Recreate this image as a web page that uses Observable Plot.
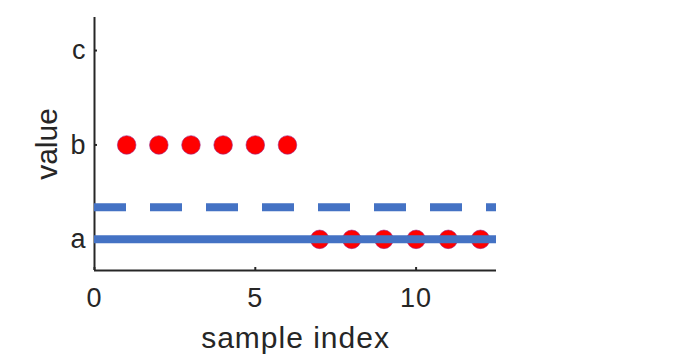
<!DOCTYPE html>
<html>
<head>
<meta charset="utf-8">
<script src="https://cdn.jsdelivr.net/npm/d3@7"></script>
<script src="https://cdn.jsdelivr.net/npm/@observablehq/plot@0.6"></script>
<style>
  html, body { margin: 0; padding: 0; background: #fff; }
  #chart svg { display: block; }
</style>
</head>
<body>
<div id="chart"></div>
<script>
// Data
const sampleIndex = [1, 2, 3, 4, 5, 6, 7, 8, 9, 10, 11, 12];
const sampleCategory = ["b", "b", "b", "b", "b", "b", "a", "a", "a", "a", "a", "a"];
const categories = ["a", "b", "c"];
const solidLevel = [0];      // reference line at category "a"
const dashedLevel = [0.34];  // dashed reference line between a and b
const xTicks = [0, 5, 10];
const xDomain = [0, 12.5];
const yDomain = [-0.33, 2.35];

const points = sampleIndex.map((x, i) => ({x, y: categories.indexOf(sampleCategory[i])}));

const ink = "#262626";
const blue = "#4472C4";
const font = "'Liberation Sans', Arial, Helvetica, sans-serif";

const chart = Plot.plot({
  width: 681,
  height: 356,
  marginLeft: 94,
  marginRight: 185,
  marginTop: 17,
  marginBottom: 86,
  style: {fontFamily: font, color: ink, background: "#fff", overflow: "visible"},
  x: {domain: xDomain},
  y: {domain: yDomain},
  marks: [
    Plot.axisX({
      ticks: xTicks, tickSize: -3, tickPadding: 20, fontSize: 27, stroke: ink, strokeWidth: 2,
      label: "sample index", labelAnchor: "center", labelOffset: 77,
      tickFormat: d => String(d)
    }),
    Plot.axisY({
      ticks: [0, 1, 2], tickSize: -3, tickPadding: 11, fontSize: 27, stroke: ink, strokeWidth: 2,
      tickFormat: d => categories[d],
      label: "value", labelAnchor: "center", labelOffset: 59
    }),
    Plot.ruleX([xDomain[0]], {stroke: ink, strokeWidth: 2}),
    Plot.ruleY([yDomain[0]], {stroke: ink, strokeWidth: 2}),
    Plot.dot(points, {x: "x", y: "y", r: 9.3, fill: "#ff0000", stroke: "#9a2a8a", strokeWidth: 0.6}),
    Plot.ruleY(solidLevel, {stroke: blue, strokeWidth: 8}),
    Plot.ruleY(dashedLevel, {stroke: blue, strokeWidth: 8, strokeDasharray: "32,24"})
  ]
});

const svg = d3.select(chart);
svg.selectAll("[aria-label='x-axis label'] text, [aria-label='y-axis label'] text")
  .style("font-size", "30px")
  .each(function() {
    const t = d3.select(this);
    const s = t.text().replace(/[\u2190-\u2193]/g, "").trim();
    t.text(s);
  });
svg.selectAll("[aria-label='x-axis label'] text").style("letter-spacing", "1px");
svg.selectAll("[aria-label='x-axis tick label'] text, [aria-label='y-axis tick label'] text")
  .style("letter-spacing", "1px");

document.getElementById("chart").appendChild(chart);
</script>
</body>
</html>
